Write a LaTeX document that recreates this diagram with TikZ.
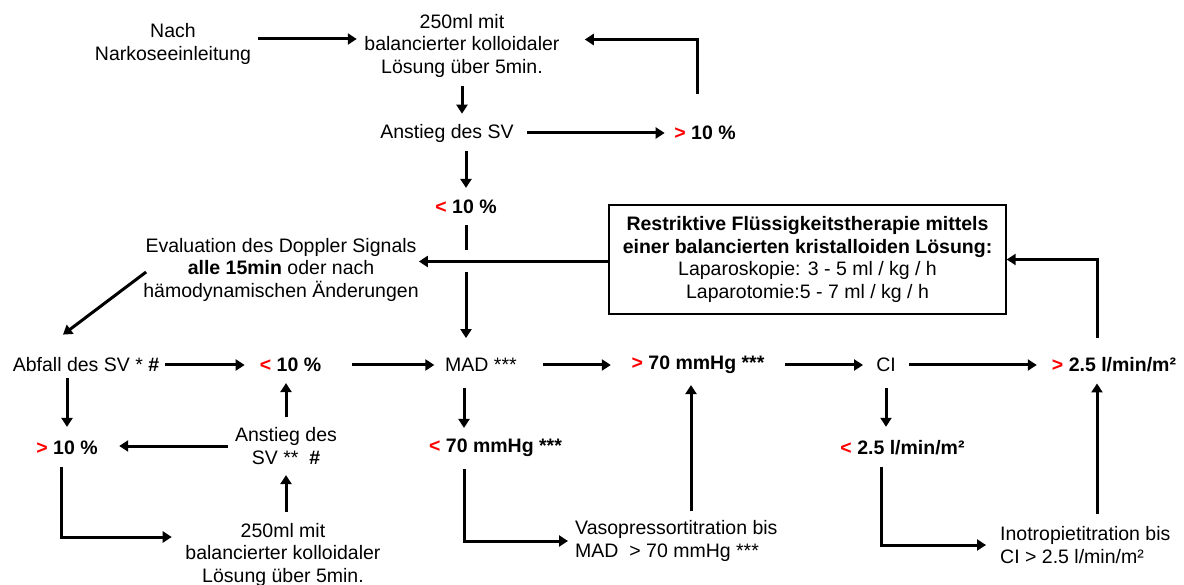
\documentclass[tikz,border=0pt]{standalone}
\usepackage{fontspec}
\setmainfont{Liberation Sans}
\usetikzlibrary{arrows.meta}

\newcommand{\rgt}{{\color{red}>}}
\newcommand{\rlt}{{\color{red}<}}

\tikzstyle{txt} = [inner sep = 0pt, align = center, font = \fontsize{19.5}{22.5}\selectfont]
\tikzstyle{val} = [inner sep = 0pt, font = \fontsize{19.5}{22.5}\selectfont\bfseries]
\tikzstyle{arr} = [line width = 3pt, -{Triangle[length = 9pt, width = 11pt]}]
\tikzstyle{ln} = [line width = 3pt]
\tikzstyle{frame} = [txt, draw = black, line width = 1.4pt, minimum width = 397pt, minimum height = 109pt]

\begin{document}
\begin{tikzpicture}[x = 1pt, y = -1pt]
        \useasboundingbox (0, 0) rectangle (1184, 585);

        \node [txt] (nach) at (173, 44) {Nach\\Narkoseeinleitung};
        \node [txt] (bolus1) at (462, 45.5) {250ml mit\\balancierter kolloidaler\\Lösung über 5min.};
        \node [txt] (anst1) at (447, 133) {Anstieg des SV};
        \node [val] (gt1) at (705, 133) {\rgt{} 10 \%};
        \node [val] (lt1) at (466, 207) {\rlt{} 10 \%};
        \node [txt] (eval) at (281, 269.5) {Evaluation des Doppler Signals\\\textbf{alle 15min} oder nach\\hämodynamischen Änderungen};
        \node [frame] (box) at (807.5, 259.5) {\textbf{Restriktive Flüssigkeitstherapie mittels}\\\textbf{einer balancierten kristalloiden Lösung:}\\Laparoskopie: 3 - 5 ml / kg / h\\Laparotomie:5 - 7 ml / kg / h};

        \node [txt] (abfall) at (86, 365) {Abfall des SV * \textbf{\#}};
        \node [val] (lt2) at (290.5, 365) {\rlt{} 10 \%};
        \node [txt] (mad) at (481, 365) {MAD ***};
        \node [val] (gt70) at (698, 365) {\rgt{} 70 mmHg ***};
        \node [txt] (ci) at (886, 365) {CI};
        \node [val] (gt25) at (1114, 365) {\rgt{} 2.5 l/min/m²};

        \node [val] (gt2) at (67, 448) {\rgt{} 10 \%};
        \node [txt] (anst2) at (286, 446) {Anstieg des\\SV **~~\textbf{\#}};
        \node [val] (lt70) at (495.5, 448) {\rlt{} 70 mmHg ***};
        \node [val] (lt25) at (902.5, 448) {\rlt{} 2.5 l/min/m²};

        \node [txt] (bolus2) at (283, 554.5) {250ml mit\\balancierter kolloidaler\\Lösung über 5min.};
        \node [txt, align = left, anchor = west] (vaso) at (575, 541) {Vasopressortitration bis\\MAD ~> 70 mmHg ***};
        \node [txt, align = left, anchor = west] (ino) at (1000, 545) {Inotropietitration bis\\CI > 2.5 l/min/m²};

        \coordinate (x1) at ([yshift = -2pt]lt1.south |- box.west);
        \coordinate (v70) at ([xshift = -7pt]gt70.south);
        \coordinate (v25) at ([xshift = -17pt]gt25.south);
        \coordinate (vn) at ([yshift = 9pt]vaso.north);
        \coordinate (in) at ([yshift = 12.8pt]ino.north);

        \draw [arr] ([xshift = 7pt, yshift = 5pt]nach.east) -- ([xshift = -7.5pt, yshift = 6.5pt]bolus1.west);
        \draw [arr] ([xshift = -8pt, yshift = 32pt]gt1.north) |- ([xshift = 25pt, yshift = 6pt]bolus1.east);
        \draw [arr] ([yshift = -9pt]bolus1.south) -- ([xshift = 15pt, yshift = 10pt]anst1.north);
        \draw [arr] ([xshift = 13pt]anst1.east) -- ([xshift = -9.5pt]gt1.west);
        \draw [arr] ([xshift = 19pt, yshift = -9pt]anst1.south) -- ([yshift = 12pt]lt1.north);
        \draw [ln] ([yshift = -11pt]lt1.south) -- ([yshift = 11pt]x1);
        \draw [arr] ([yshift = -11pt]x1) -- ([xshift = -15pt, yshift = 20pt]mad.north);
        \draw [arr] ([yshift = -2pt]box.west) -- ([yshift = 8pt]eval.east);
        \draw [arr] ([xshift = 3pt, yshift = -2.5pt]eval.west) -- ([xshift = -23pt, yshift = 23pt]abfall.north);

        \draw [arr] ([xshift = 6pt]abfall.east) -- ([xshift = -15pt]lt2.west);
        \draw [arr] ([xshift = 31pt]lt2.east) -- ([xshift = -10.7pt]mad.west);
        \draw [arr] ([xshift = 25.7pt]mad.east) -- ([xshift = -20.6pt]gt70.west);
        \draw [arr] ([xshift = 20.6pt]gt70.east) -- ([xshift = -13pt]ci.west);
        \draw [arr] ([xshift = 13pt]ci.east) -- ([xshift = -15pt]gt25.west);
        \draw [arr] ([xshift = -17pt, yshift = 20pt]gt25.north) |- (box.east);

        \draw [arr] ([xshift = -19pt, yshift = -6pt]abfall.south) -- ([yshift = 14pt]gt2.north);
        \draw [arr] ([xshift = -7pt]anst2.west) -- ([xshift = 21.4pt, yshift = 2pt]gt2.east);
        \draw [arr] ([yshift = 10pt]anst2.north) -- ([xshift = -4.5pt, yshift = -11pt]lt2.south);
        \draw [arr] ([xshift = 3pt, yshift = 11pt]bolus2.north) -- ([yshift = -10.5pt]anst2.south);
        \draw [arr] ([xshift = -6pt, yshift = -12pt]gt2.south) |- ([xshift = -13.5pt, yshift = 17.5pt]bolus2.west);
        \draw [arr] ([xshift = -17pt, yshift = -16pt]mad.south) -- ([xshift = -31.5pt, yshift = 11pt]lt70.north);
        \draw [arr] ([xshift = -31.5pt, yshift = -12pt]lt70.south) |- ([xshift = -7pt]vaso.west);
        \draw [arr] (v70 |- vn) -- ([yshift = -11pt]v70);
        \draw [arr] ([yshift = -16pt]ci.south) -- ([xshift = -16.5pt, yshift = 13.75pt]lt25.north);
        \draw [arr] ([xshift = -21.5pt, yshift = -12pt]lt25.south) |- ([xshift = -14pt]ino.west);
        \draw [arr] (v25 |- in) -- ([yshift = -11pt]v25);
    \end{tikzpicture}
\end{document}
